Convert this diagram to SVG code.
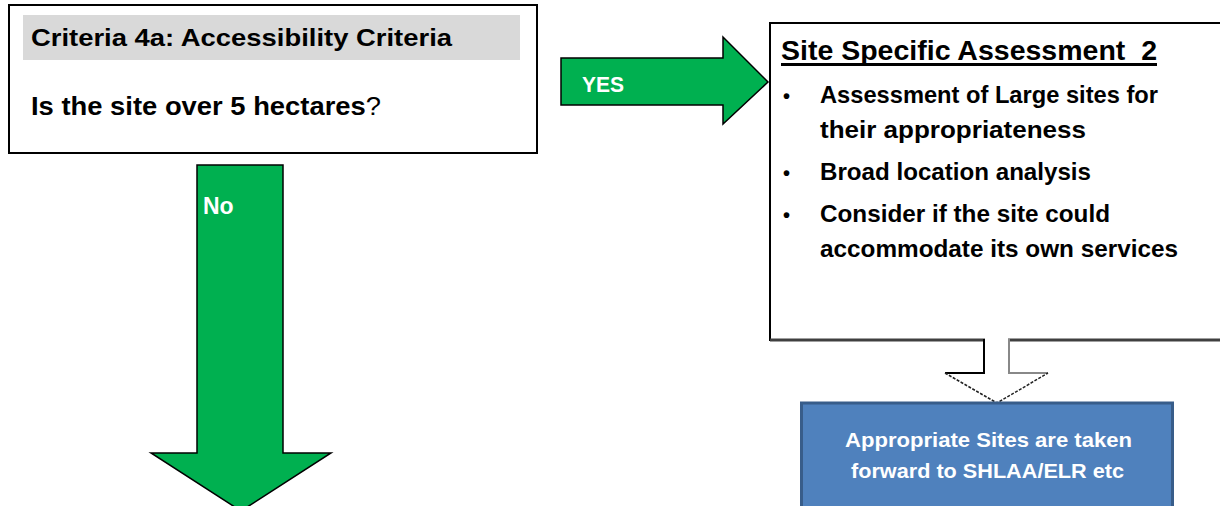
<svg xmlns="http://www.w3.org/2000/svg" width="1220" height="506" viewBox="0 0 1220 506">
<style>
.t{font-family:"Liberation Sans",Arial,sans-serif;font-weight:bold;fill:#000}
.w{font-family:"Liberation Sans",Arial,sans-serif;font-weight:bold;fill:#fff}
.box{fill:#fff;stroke:#000;stroke-width:2}
.green{fill:#00B050;stroke:#000;stroke-width:1.5;stroke-linejoin:miter}
</style>
<rect width="1220" height="506" fill="#fff"/>
<g id="connectors">
  <g id="yes-arrow">
    <polygon class="green" points="561,58 723,58 723,37 768,82 723,124 723,105 561,105"/>
    <text class="w" x="582" y="92" font-size="22" textLength="42" lengthAdjust="spacingAndGlyphs">YES</text>
  </g>
  <g id="no-arrow">
    <polygon class="green" points="197,165 283,165 283,453 331,453 241,511 151,453 197,453"/>
    <text class="w" x="203" y="214" font-size="23">No</text>
  </g>
</g>
<g id="criteria">
  <rect class="box" x="9" y="5" width="528" height="148"/>
  <rect x="23" y="15" width="497" height="45" fill="#D9D9D9"/>
  <text class="t" x="31" y="46" font-size="24" textLength="421" lengthAdjust="spacingAndGlyphs">Criteria 4a: Accessibility Criteria</text>
  <text class="t" x="31" y="115" font-size="25" textLength="350" lengthAdjust="spacingAndGlyphs">Is the site over 5 hectares<tspan font-weight="normal">?</tspan></text>
</g>
<g id="assessment">
  <rect class="box" x="770" y="23" width="460" height="317"/>
  <line x1="770" y1="340" x2="1220" y2="340" stroke="#404040" stroke-width="3"/>
  <text class="t" x="781" y="60" font-size="28" textLength="376" lengthAdjust="spacingAndGlyphs" xml:space="preserve">Site Specific Assessment  2</text>
  <rect x="781" y="63" width="376" height="3" fill="#000"/>
  <g>
    <text class="t" x="783" y="103" font-size="20">•</text>
    <text class="t" x="820" y="103" font-size="24" textLength="338" lengthAdjust="spacingAndGlyphs">Assessment of Large sites for</text>
    <text class="t" x="820" y="138" font-size="24" textLength="266" lengthAdjust="spacingAndGlyphs">their appropriateness</text>
    <text class="t" x="783" y="180" font-size="20">•</text>
    <text class="t" x="820" y="180" font-size="24" textLength="271" lengthAdjust="spacingAndGlyphs">Broad location analysis</text>
    <text class="t" x="783" y="222" font-size="20">•</text>
    <text class="t" x="820" y="222" font-size="24" textLength="290" lengthAdjust="spacingAndGlyphs">Consider if the site could</text>
    <text class="t" x="820" y="257" font-size="24" textLength="358" lengthAdjust="spacingAndGlyphs">accommodate its own services</text>
  </g>
</g>
<g id="down-arrow">
  <rect x="985" y="336" width="23" height="8" fill="#fff"/>
  <polygon points="984,339 984,373 945,373 997,403 1048,373 1009,373 1009,339" fill="#fff" stroke="none"/>
  <polyline points="984,339 984,373 945,373" fill="none" stroke="#000" stroke-width="2"/>
  <polyline points="1009,339 1009,373 1048,373" fill="none" stroke="#888" stroke-width="2"/>
  <polyline points="945,373 997,403 1048,373" fill="none" stroke="#222" stroke-width="1.5" stroke-dasharray="3,1.5"/>
</g>
<g id="result">
  <rect x="801.5" y="403" width="371" height="110" fill="#4F81BD" stroke="#385D8A" stroke-width="3"/>
  <text class="w" x="845" y="447" font-size="21" textLength="287" lengthAdjust="spacingAndGlyphs">Appropriate Sites are taken</text>
  <text class="w" x="851" y="478" font-size="21" textLength="273" lengthAdjust="spacingAndGlyphs">forward to SHLAA/ELR etc</text>
</g>
</svg>
